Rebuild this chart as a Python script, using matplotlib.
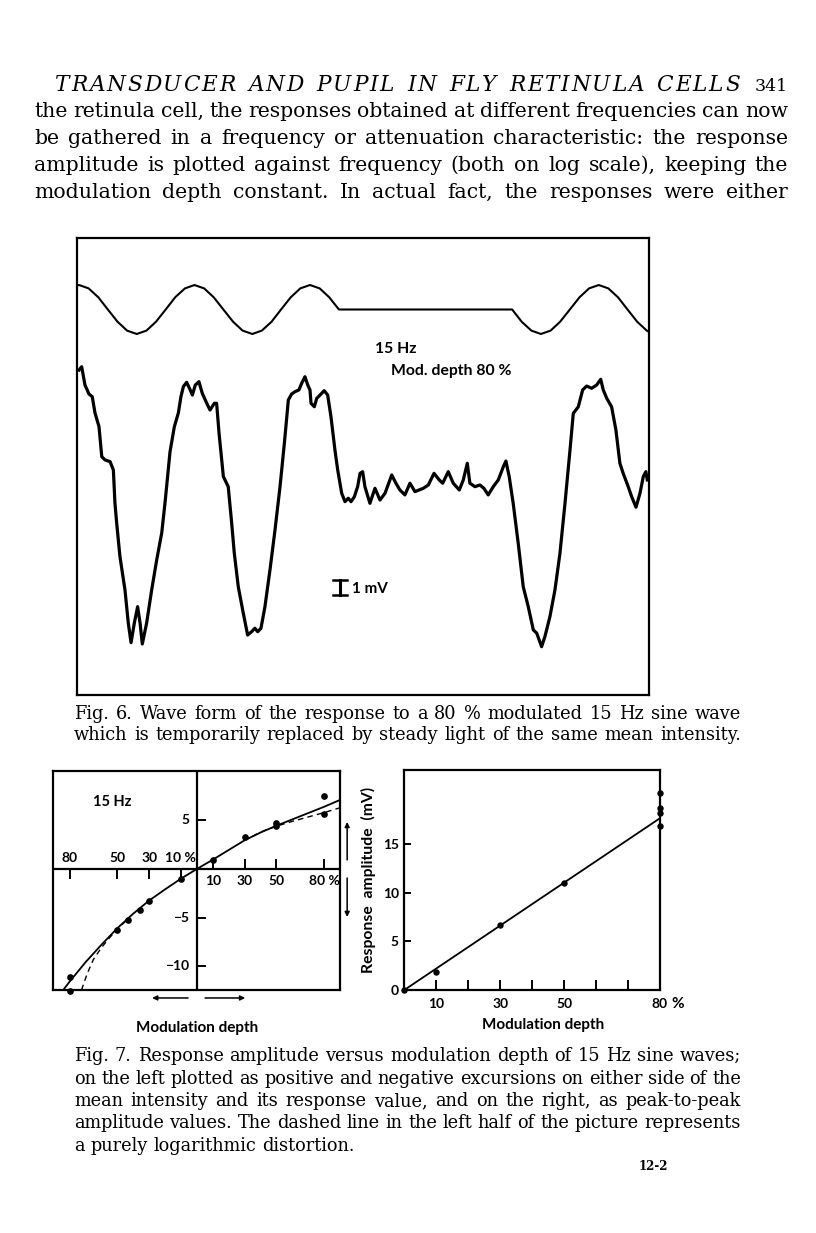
import matplotlib
matplotlib.use('Agg')
import matplotlib.pyplot as plt

# ---------------------------------------------------------------- data
# Fig. 6: stimulus (time in ms, relative light intensity)
stim_t = [0, 1.2, 6.7, 12.3, 17.8, 23.4, 28.9, 34.5, 40.1, 45.6, 51.2, 56.7, 62.3,
          67.8, 73.4, 78.9, 84.5, 90.1, 95.6, 101.2, 106.7, 112.3, 117.8, 123.4,
          128.9, 134.5, 140.1, 145.6, 151.2, 251.2, 256.7, 262.3, 267.8, 273.4,
          278.9, 284.5, 290.1, 295.6, 301.2, 306.7, 312.3, 317.8, 323.4, 328.9, 330.2]
stim_i = [1.79, 1.80, 1.69, 1.40, 1.00, 0.60, 0.31, 0.20, 0.31, 0.60, 1.00, 1.40, 1.69,
          1.80, 1.69, 1.40, 1.00, 0.60, 0.31, 0.20, 0.31, 0.60, 1.00, 1.40,
          1.69, 1.80, 1.69, 1.40, 1.00, 1.00, 0.60, 0.31, 0.20, 0.31,
          0.60, 1.00, 1.40, 1.69, 1.80, 1.69, 1.40, 1.00, 0.60, 0.31, 0.27]

# Fig. 6: response (time in ms, mV relative to the steady-light level)
resp_t = [1.2, 2.7, 4.6, 6.9, 8.8, 10.4, 12.7, 14.3, 16.2, 19.1, 21.0, 21.9, 22.9, 24.8,
          27.7, 29.6, 31.2, 33.1, 35.0, 36.4, 37.7, 40.2, 43.1, 46.0, 48.9, 50.8, 53.7,
          56.2, 58.5, 60.0, 61.4, 63.3, 65.2, 66.6, 68.3, 70.4, 72.3, 74.9, 76.8, 79.3,
          80.6, 82.0, 84.5, 87.3, 89.3, 90.8, 93.1, 96.0, 98.5, 100.8, 102.7, 104.3,
          106.2, 108.5, 111.4, 114.3, 117.2, 119.7, 122.0, 123.9, 125.8, 128.1, 129.7,
          131.6, 133.2, 134.5, 135.1, 137.0, 138.4, 140.3, 142.7, 144.7, 146.6, 148.9,
          150.5, 152.8, 154.7, 156.6, 158.2, 160.1, 162.0, 163.4, 164.9, 166.2, 169.1,
          172.0, 174.9, 177.8, 181.7, 184.1, 186.4, 189.3, 192.2, 195.1, 199.9, 202.8,
          206.1, 209.1, 211.1, 214.3, 217.2, 220.7, 223.0, 225.3, 226.8, 229.7, 232.6,
          234.9, 237.4, 240.3, 243.2, 246.1, 247.6, 249.5, 251.8, 254.7, 257.6, 260.5,
          263.4, 265.4, 268.2, 270.1, 273.0, 275.9, 278.8, 281.7, 284.6, 286.5, 289.4,
          291.9, 294.2, 297.1, 300.0, 302.3, 303.8, 305.8, 308.6, 311.1, 313.4, 315.3,
          318.2, 320.2, 322.7, 325.0, 326.9, 328.4, 329.2]
resp_mv = [7.80, 8.02, 6.80, 6.20, 6.02, 4.93, 4.02, 2.02, 1.80, 1.69, 1.13, -1.07, -2.40,
           -4.65, -6.87, -9.07, -10.38, -9.07, -7.98, -9.07, -10.47, -9.07, -6.87, -4.87,
           -3.07, -1.07, 2.35, 4.02, 4.93, 6.02, 6.69, 6.98, 6.51, 6.13, 6.80, 7.02, 6.25,
           5.58, 5.13, 5.58, 5.58, 3.58, 0.69, 0.02, -2.42, -4.42, -6.65, -8.42, -9.87,
           -9.65, -9.42, -9.65, -9.42, -7.98, -5.53, -2.87, 0.02, 2.91, 5.80, 6.20, 6.35,
           6.47, 6.91, 7.35, 6.80, 6.47, 5.58, 5.35, 5.91, 6.13, 6.42, 6.13, 4.69, 2.47,
           1.13, -0.42, -0.98, -0.75, -0.98, -0.65, 0.02, 0.91, 1.02, 0.02, -1.09, -0.09,
           -0.87, -0.42, 0.80, 0.25, -0.20, -0.53, 0.25, -0.31, -0.09, 0.13, 0.91, 0.47,
           0.25, 1.02, 0.25, -0.20, 0.47, 1.58, 0.25, 0.02, 0.13, -0.09, -0.53, 0.02, 0.47,
           1.35, 1.73, 0.69, -1.09, -3.75, -6.65, -7.98, -9.53, -9.75, -10.65, -9.98,
           -8.65, -6.87, -4.42, -1.09, 2.47, 4.91, 5.35, 6.47, 6.73, 6.58, 6.80, 7.18,
           6.47, 5.91, 5.35, 3.80, 1.58, 0.91, 0.02, -0.65, -1.35, -0.42, 0.69, 1.02, 0.47]
scale_bar_mv = 1.0

# Fig. 7 left: excursions (modulation depth %, response mV)
pos_depth = [10, 30, 50, 50, 80, 80]
pos_resp = [0.93, 3.33, 4.70, 4.40, 7.54, 5.66]
neg_depth = [-10, -30, -36, -43, -50, -80, -80]
neg_resp = [-1.00, -3.26, -4.22, -5.25, -6.28, -11.11, -12.55]
solid_depth = [-84, -80, -70, -60, -50, -40, -30, -20, -10, 0, 10, 20, 30, 40, 50, 60, 70, 80, 90]
solid_resp = [-12.45, -11.6, -9.6, -7.8, -6.1, -4.6, -3.25, -2.1, -1.0, 0, 0.95, 1.95,
              2.95, 3.75, 4.45, 5.1, 5.75, 6.4, 7.1]
dash_neg_depth = [-72.5, -69, -65, -60, -55, -50, -45]
dash_neg_resp = [-12.45, -10.8, -9.3, -8.1, -7.1, -6.2, -5.4]
dash_pos_depth = [35, 40, 50, 60, 70, 80, 90]
dash_pos_resp = [3.35, 3.8, 4.4, 4.9, 5.35, 5.8, 6.3]
left_xticks = [10, 30, 50, 80]
left_yticks = [5, -5, -10]

# Fig. 7 right: peak-to-peak amplitude
pp_depth = [0, 10, 30, 50, 80, 80, 80, 80]
pp_amp = [0, 1.82, 6.68, 11.03, 20.2, 18.67, 18.16, 16.89]
fit_depth = [0, 80]
fit_amp = [0, 17.65]
right_xticks = [10, 20, 30, 40, 50, 60, 70, 80]
right_xlabels = ['10', '', '30', '', '50', '', '', '80']
right_yticks = [0, 5, 10, 15]

# page text
header = "TRANSDUCER AND PUPIL IN FLY RETINULA CELLS"
page_no = "341"
body = ["the retinula cell, the responses obtained at different frequencies can now",
        "be gathered in a frequency or attenuation characteristic: the response",
        "amplitude is plotted against frequency (both on log scale), keeping the",
        "modulation depth constant. In actual fact, the responses were either"]
cap6 = ["Fig. 6. Wave form of the response to a 80 % modulated 15 Hz sine wave",
        "which is temporarily replaced by steady light of the same mean intensity."]
cap7 = ["Fig. 7. Response amplitude versus modulation depth of 15 Hz sine waves;",
        "on the left plotted as positive and negative excursions on either side of the",
        "mean intensity and its response value, and on the right, as peak-to-peak",
        "amplitude values. The dashed line in the left half of the picture represents",
        "a purely logarithmic distortion."]
signature = "12-2"

# ---------------------------------------------------------------- figure
W, H = 816, 1233
fig = plt.figure(figsize=(W / 100, H / 100), dpi=100)
fig.patch.set_facecolor('white')
SERIF = ['DejaVu Serif']
SANS = ['Lato', 'DejaVu Sans']
plt.rcParams['font.family'] = SANS
renderer = fig.canvas.get_renderer()
PX = 100 / 72


def rect(l, t, r, b):
    return [l / W, 1 - b / H, (r - l) / W, (b - t) / H]


def ftext(x, y, s, **kw):
    return fig.text(x / W, 1 - y / H, s, **kw)


def measure(s, size, **kw):
    t = fig.text(0, 0, s, fontsize=size, family=SERIF, **kw)
    w = t.get_window_extent(renderer).width
    t.remove()
    return w


def fit_size(lines, x0, x1, gap_em):
    sizes = []
    for line in lines:
        words = line.split()
        sw = sum(measure(w, 12) for w in words) / 12
        sizes.append((x1 - x0) / (sw + (len(words) - 1) * gap_em * PX))
    return min(sizes)


def justify(line, base_y, x0, x1, size, just=True, **kw):
    words = line.split()
    objs = [ftext(0, base_y, w, fontsize=size, family=SERIF, va='baseline', ha='left', **kw)
            for w in words]
    widths = [o.get_window_extent(renderer).width for o in objs]
    if just and len(words) > 1:
        gap = (x1 - x0 - sum(widths)) / (len(words) - 1)
    else:
        gap = size * 0.34 * PX
    x = x0
    for o, w in zip(objs, widths):
        o.set_x(x / W)
        x += w + gap


def tracked(s, base_y, x0, x1, track_em, space_em, **kw):
    chars = list(s)
    n_sp = chars.count(' ')
    c12 = sum(measure(c, 12, **kw) for c in chars if c != ' ') / 12
    size = (x1 - x0) / (c12 + n_sp * space_em * PX + (len(chars) - 1) * track_em * PX)
    x = x0
    for c in chars:
        if c == ' ':
            x += space_em * size * PX + track_em * size * PX
            continue
        o = ftext(x, base_y, c, fontsize=size, family=SERIF, va='baseline', ha='left', **kw)
        x += o.get_window_extent(renderer).width + track_em * size * PX
    return size


# header
tracked(header, 91, 55, 738, 0.085, 0.42, style='italic')
ftext(788, 91, page_no, fontsize=12.5, family=SERIF, va='baseline', ha='right')

bs = fit_size(body, 34, 788, 0.30)
for i, line in enumerate(body):
    justify(line, 117 + i * 27, 34, 788, bs)
cs = fit_size(cap6 + cap7[:-1], 74, 741, 0.30)
for i, line in enumerate(cap6):
    justify(line, 719 + i * 21.5, 74, 741, cs)
for i, line in enumerate(cap7):
    justify(line, 1061 + i * 22.5, 74, 741, cs, just=(i < len(cap7) - 1))
ftext(668, 1166, signature, fontsize=8.5, family=SERIF, weight='bold', ha='right', va='center')

# ---------------------------------------------------------------- Fig. 6
ax6 = fig.add_axes(rect(77, 238, 649, 695))
ax6.plot(resp_t, resp_mv, color='black', lw=2.3, solid_joinstyle='round')
ax6.set_xlim(0, 330.2)
ax6.set_ylim(-13.87, 16.6)
ax6.set_xticks([])
ax6.set_yticks([])
for s in ax6.spines.values():
    s.set_linewidth(1.6)
bar_t = 151.8
bar_c = -6.73
ax6.plot([bar_t, bar_t], [bar_c - scale_bar_mv / 2, bar_c + scale_bar_mv / 2], color='k', lw=2.2)
for yy in (bar_c - scale_bar_mv / 2, bar_c + scale_bar_mv / 2):
    ax6.plot([bar_t - 3.8, bar_t + 3.8], [yy, yy], color='k', lw=1.8)

ax6s = fig.add_axes(rect(77, 238, 649, 695))
ax6s.patch.set_alpha(0)
ax6s.plot(stim_t, stim_i, color='black', lw=1.5)
ax6s.set_xlim(0, 330.2)
ax6s.set_ylim(-11.6, 3.337)
ax6s.axis('off')

ftext(375, 349, "15 Hz", fontsize=11.3, weight='bold', va='center')
ftext(391, 371, "Mod. depth 80 %", fontsize=11.3, weight='bold', va='center')
ftext(352, 589, "1 mV", fontsize=11, weight='bold', va='center')

# ---------------------------------------------------------------- Fig. 7 left
axl = fig.add_axes(rect(52.7, 771, 340, 990))
axl.set_xlim(-90.6, 90)
axl.set_ylim(-12.45, 10.08)
axl.set_xticks([])
axl.set_yticks([])
for s in axl.spines.values():
    s.set_linewidth(1.6)
axl.axhline(0, color='k', lw=1.6)
axl.axvline(0, color='k', lw=1.6)
axl.plot(solid_depth, solid_resp, color='k', lw=1.3, clip_on=True)
axl.plot(dash_neg_depth, dash_neg_resp, color='k', lw=1.0, ls=(0, (4, 3)))
axl.plot(dash_pos_depth, dash_pos_resp, color='k', lw=1.0, ls=(0, (4, 3)))
axl.plot(pos_depth, pos_resp, 'o', color='k', ms=3.8, clip_on=False)
axl.plot(neg_depth, neg_resp, 'o', color='k', ms=3.8, clip_on=False)
# ticks on the zero lines
axl.plot(left_xticks, [0] * len(left_xticks), ls='', marker=2, ms=7, mew=1.4, color='k')
axl.plot([-v for v in left_xticks], [0] * len(left_xticks), ls='', marker=3, ms=7, mew=1.4, color='k')
axl.plot([0] * len(left_yticks), left_yticks, ls='', marker=1, ms=6.5, mew=1.4, color='k')
for v in left_xticks:
    lab = f"{v} %" if v in (10, 80) else f"{v}"
    axl.annotate(lab if v != 10 else "10", (v, 0), xytext=(0, -9), textcoords='offset points',
                 ha='center', va='center', fontsize=10, weight='bold')
    axl.annotate(lab if v != 80 else "80", (-v, 0), xytext=(0, 8), textcoords='offset points',
                 ha='center', va='center', fontsize=10, weight='bold')
for v in left_yticks:
    axl.annotate(f"{v}".replace('-', '\u2212'), (0, v), xytext=(-5.5, 0), textcoords='offset points',
                 ha='right', va='center', fontsize=10, weight='bold')
axl.text(0.207, 0.86, "15 Hz", transform=axl.transAxes, fontsize=10.5, weight='bold',
         ha='center', va='center')
arrow = dict(arrowstyle='-|>', lw=1.1, color='k', mutation_scale=7, shrinkA=0, shrinkB=0)
axl.annotate('', xy=(-28.1, -13.27), xytext=(-5.5, -13.27), arrowprops=arrow, annotation_clip=False)
axl.annotate('', xy=(30.4, -13.27), xytext=(5.2, -13.27), arrowprops=arrow, annotation_clip=False)
axl.annotate('', xy=(94.5, 4.84), xytext=(94.5, 0.93), arrowprops=arrow, annotation_clip=False)
axl.annotate('', xy=(94.5, -4.94), xytext=(94.5, -0.93), arrowprops=arrow, annotation_clip=False)
ftext(197, 1028, "Modulation depth", fontsize=11, weight='bold', ha='center', va='center')

# ---------------------------------------------------------------- Fig. 7 right
axr = fig.add_axes(rect(404.3, 770, 660, 990))
axr.plot(fit_depth, fit_amp, color='k', lw=1.3)
axr.plot(pp_depth, pp_amp, 'o', color='k', ms=3.6, clip_on=False)
axr.set_xlim(0, 80)
axr.set_ylim(0, 22.6)
axr.set_xticks(right_xticks)
axr.set_xticklabels(right_xlabels)
axr.set_yticks(right_yticks)
axr.set_yticklabels([str(v) for v in right_yticks])
axr.tick_params(axis='x', direction='in', length=7, width=1.4, pad=6, labelsize=10)
axr.tick_params(axis='y', direction='in', length=5, width=1.4, pad=4, labelsize=10)
for lab in axr.get_xticklabels() + axr.get_yticklabels():
    lab.set_fontweight('bold')
for s in axr.spines.values():
    s.set_linewidth(1.6)
axr.annotate('%', (80, 0), xytext=(8, -10), textcoords='offset points', ha='left',
             va='center', fontsize=11, weight='bold', annotation_clip=False)
axr.set_ylabel("Response  amplitude  (mV)", fontsize=11.3, weight='bold', labelpad=5)
ftext(543, 1025, "Modulation depth", fontsize=11, weight='bold', ha='center', va='center')

fig.savefig('out.png', dpi=100, facecolor='white')
